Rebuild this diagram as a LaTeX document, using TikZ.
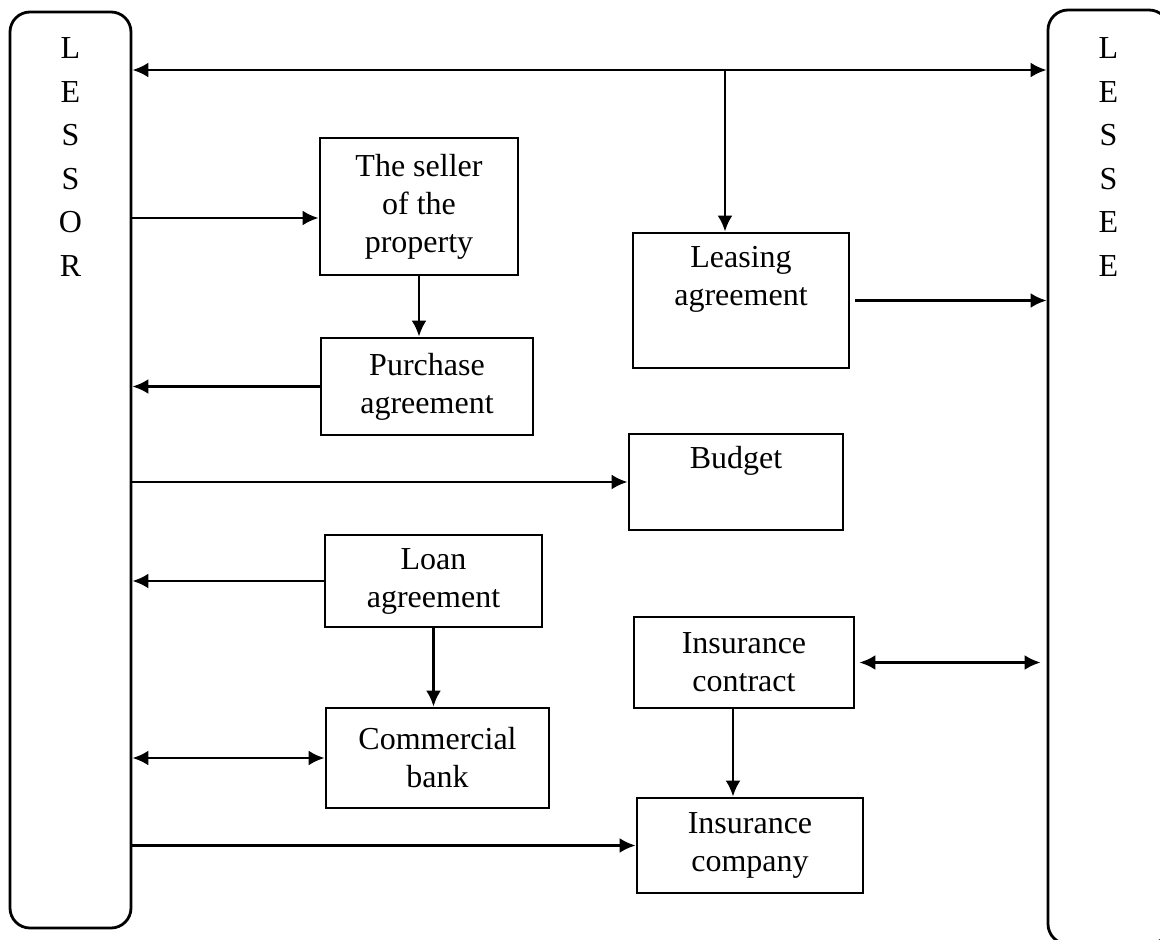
\documentclass[tikz,border=0pt]{standalone}
\usepackage{fontspec}
\setmainfont{Liberation Serif}
\usetikzlibrary{arrows.meta,positioning}
\tikzset{
  box/.style={draw, line width=2.8pt, rectangle, inner sep=0pt, align=center,
    font=\fontsize{32}{38}\selectfont},
  sidebox/.style={draw, line width=2.8pt, rounded corners=20pt,
    minimum width=121pt, inner sep=0pt},
  letters/.style={inner sep=0pt, align=center, anchor=north,
    font=\fontsize{32}{43.5}\selectfont},
  arr/.style={line width=2.8pt, -{Latex[length=16pt,width=15pt]}},
  biarr/.style={line width=2.8pt, {Latex[length=16pt,width=15pt]}-{Latex[length=16pt,width=15pt]}}
}
\begin{document}
\begin{tikzpicture}[x=1pt,y=-1pt]
\useasboundingbox (0,0) rectangle (1160,940);
\clip (0,0) rectangle (1160,940);

\node[sidebox, minimum height=916pt] (lessor) at (70.5,470) {};
\node[sidebox, minimum height=934pt] (lessee) at (1108.5,477) {};
\node[letters, below=27pt of lessor.north] (lessortxt) {L\\E\\S\\S\\O\\R};
\node[letters, below=29pt of lessee.north] (lesseetxt) {L\\E\\S\\S\\E\\E};

\node[box, minimum width=198pt, minimum height=137pt] (seller) at (419,206.5) {The seller\\of the\\property};
\node[box, minimum width=212pt, minimum height=97pt] (purchase) at (427,386.5) {Purchase\\agreement};
\node[box, minimum width=216pt, minimum height=135pt] (leasing) at (741,300.5) {Leasing\\agreement\\\strut};
\node[box, minimum width=214pt, minimum height=96pt] (budget) at (736,482) {Budget\\\strut};
\node[box, minimum width=217pt, minimum height=92pt] (loan) at (433.5,581) {Loan\\agreement};
\node[box, minimum width=223pt, minimum height=100pt] (bank) at (437.5,758) {Commercial\\bank};
\node[box, minimum width=220pt, minimum height=91pt] (contract) at (744,662.5) {Insurance\\contract};
\node[box, minimum width=226pt, minimum height=95pt] (company) at (750,845.5) {Insurance\\company};

\coordinate (fork) at (725,70);
\coordinate (sellerin) at ([yshift=-11.5pt]seller.west);
\coordinate (contractout) at ([xshift=-11pt]contract.south);

\draw[biarr] (lessor.east |- fork) -- (lessee.west |- fork);
\draw[arr] (fork) -- (fork |- leasing.north);
\draw[arr] (lessor.east |- sellerin) -- (sellerin);
\draw[arr] (seller.south) -- (seller.south |- purchase.north);
\draw[arr] (purchase.west) -- (lessor.east |- purchase.west);
\draw[arr, shorten <=5pt] (leasing.east) -- (lessee.west |- leasing.east);
\draw[arr] (lessor.east |- budget.west) -- (budget.west);
\draw[arr] (loan.west) -- (lessor.east |- loan.west);
\draw[arr] (loan.south) -- (loan.south |- bank.north);
\draw[biarr] (lessor.east |- bank.west) -- (bank.west);
\draw[biarr, shorten <=4pt, shorten >=6pt] (contract.east) -- (lessee.west |- contract.east);
\draw[arr] (contractout) -- (contractout |- company.north);
\draw[arr] (lessor.east |- company.west) -- (company.west);
\end{tikzpicture}
\end{document}
